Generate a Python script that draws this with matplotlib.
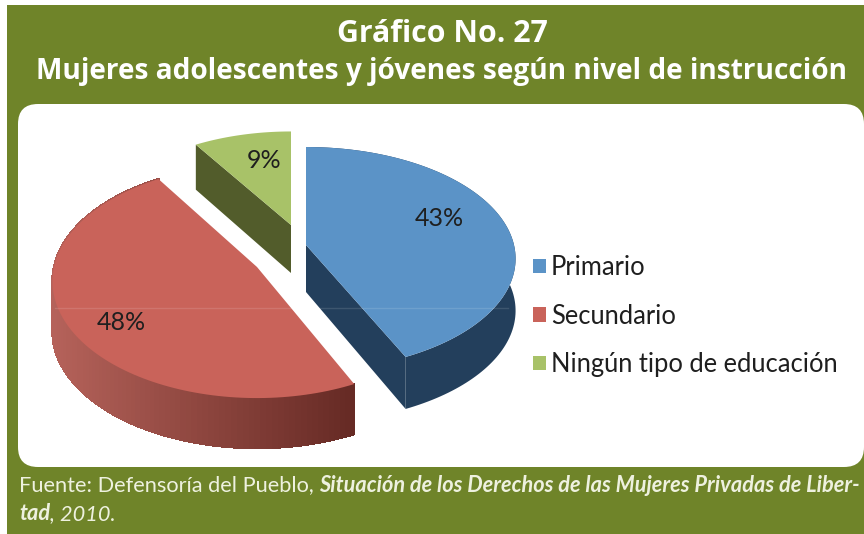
import numpy as np
import matplotlib
matplotlib.use("Agg")
import matplotlib.pyplot as plt
from matplotlib.patches import FancyBboxPatch, Patch, Rectangle
from matplotlib.collections import PolyCollection
from matplotlib.colors import LinearSegmentedColormap

categories = ["Primario", "Secundario", "Ningún tipo de educación"]
values = [43, 48, 9]
labels = ["43%", "48%", "9%"]
title_lines = ["Gráfico No. 27", "Mujeres adolescentes y jóvenes según nivel de instrucción"]

top_colors = ["#5b93c7", "#c9635a", "#a8c268"]
face_colors = ["#233f5c", "#662a24", "#525c2b"]
bg = "#6f8429"

# apex x, apex y, x radius, y radius of each exploded slice (in pixels)
apex = [(306, 245), (257, 267), (291, 225)]
radii = [(208, 110), (203, 115), (196, 105)]
label_pos = [(439, 218), (121, 323), (264, 160)]
depth = 50
persp = 0.1226


def project(theta, rx, ry, cx, cy):
    u, v = np.cos(theta), np.sin(theta)
    w = 1 + persp * v
    return cx + rx * u / w, cy - ry * v / w


fig = plt.figure(figsize=(8.64, 5.34), dpi=100, facecolor="white")
ax = fig.add_axes([0, 0, 1, 1])
ax.set_xlim(0, 864)
ax.set_ylim(534, 0)
ax.axis("off")

ax.add_patch(Rectangle((7, 5), 857, 529, fc=bg, ec="none", zorder=0))
ax.add_patch(FancyBboxPatch((18, 104), 846, 363, boxstyle="round,pad=0,rounding_size=20",
                            fc="white", ec="none", zorder=0.5))

shade = LinearSegmentedColormap.from_list("shade", ["#b5625a", "#662a24"])

# slices run clockwise from the top
edges = 90 - np.cumsum([0] + values) * 3.6
for i in range(len(values)):
    t = np.radians(np.linspace(edges[i], edges[i + 1], 120))
    cx, cy = apex[i]
    rx, ry = radii[i]
    x, y = project(t, rx, ry, cx, cy)

    # walls, only what faces the viewer
    if i == 0:
        ax.fill([cx, x[-1], x[-1], cx], [cy, y[-1], y[-1] + depth + 2, cy + depth - 3], color=face_colors[0], lw=0, zorder=2)
        ax.fill(np.r_[x, x[::-1]], np.r_[y, y[::-1] + depth + 2], color=face_colors[0], lw=0, zorder=2)
    elif i == 1:
        quads = [[(x[j], y[j]), (x[j + 1], y[j + 1]), (x[j + 1], y[j + 1] + depth), (x[j], y[j] + depth)]
                 for j in range(len(x) - 1) if t[j] > np.radians(-270)]
        mids = np.array([q[0][0] for q in quads])
        walls = PolyCollection(quads, array=mids, cmap=shade, edgecolors="face", linewidths=1,
                               antialiaseds=False, zorder=2)
        walls.set_clim(x.min(), x[0])
        ax.add_collection(walls)
    else:
        ax.fill([cx, x[0], x[0], cx], [cy, y[0], y[0] + depth - 5, cy + depth - 2], color=face_colors[2], lw=0, zorder=2)

    ax.fill(np.r_[cx, x], np.r_[cy, y], color=top_colors[i], lw=0, zorder=3)
    ax.text(label_pos[i][0], label_pos[i][1], labels[i], ha="center", va="center",
            family="Lato", fontsize=18, color="#1f1f1f", zorder=6)

# faint seam that runs across the pie
ax.plot([55, 508], [308, 308], color="white", alpha=0.12, lw=1, zorder=4)

handles = [Patch(fc=c, ec="none") for c in top_colors]
ax.legend(handles, categories, loc="upper left", bbox_to_anchor=(533 / 864, 1 - 255 / 534), frameon=False,
          prop={"family": "Lato", "size": 18.4}, labelcolor="#1f1f1f", handlelength=0.5, handleheight=0.5,
          handletextpad=0.2, labelspacing=0.92, borderpad=0, borderaxespad=0)

ax.text(442, 34, title_lines[0], ha="center", va="center", color="white", family="Open Sans", weight="bold", fontsize=21.8)
ax.text(442, 72, title_lines[1], ha="center", va="center", color="white", family="Open Sans", weight="bold", fontsize=20.2)


def runs(x, y, pieces):
    r = fig.canvas.get_renderer()
    for s, kw in pieces:
        t = ax.text(x, y, s, ha="left", va="center", color="#eef1df", family="Lato", fontsize=15.7, **kw)
        x += t.get_window_extent(r).width


plain = {"weight": "normal"}
strong = {"weight": "bold", "style": "italic"}
runs(19, 485, [("Fuente: Defensoría del Pueblo, ", plain),
               ("Situación de los Derechos de las Mujeres Privadas de Liber-", strong)])
runs(19, 514, [("tad", strong), (", 2010.", {"weight": "normal", "style": "italic"})])

fig.savefig("out.png", dpi=100, facecolor="white")
